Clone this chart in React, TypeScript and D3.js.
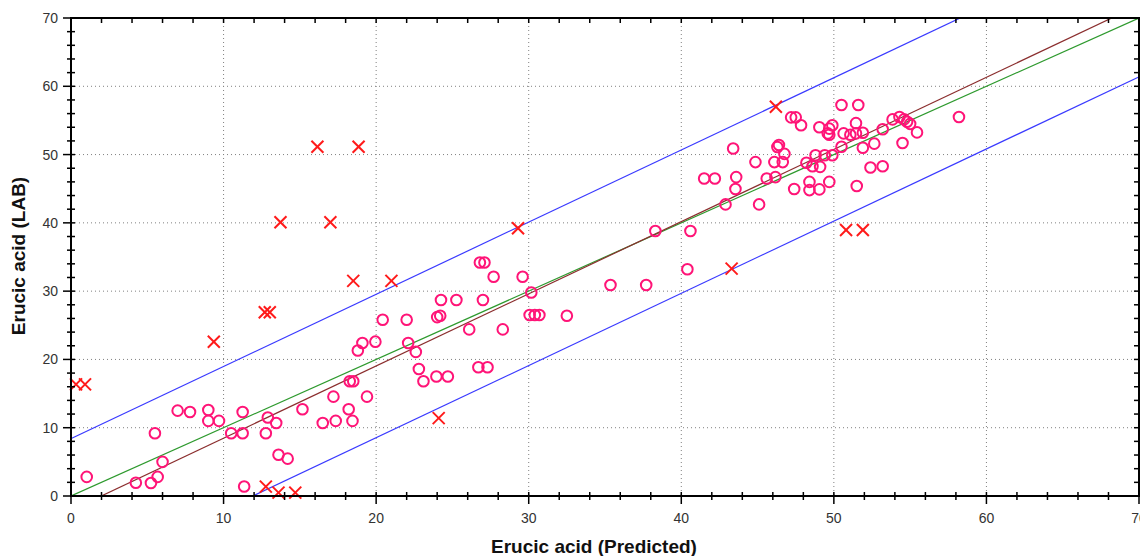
import React from "react";
import * as d3 from "d3";

// Normal samples: predicted vs lab
const predicted: number[] = [
  1.03, 4.25, 5.24, 5.68, 6.0, 5.5, 6.99, 7.8, 9.0, 9.0, 9.7, 10.5, 11.25, 11.25, 11.35,
  12.77, 12.9, 13.45, 13.6, 14.2, 15.17, 16.5, 17.35, 17.2, 18.2, 18.45, 18.27, 18.5, 19.4,
  18.8, 19.1, 19.95, 22.1, 22.6, 22.8, 23.1, 23.95, 24.7, 26.8, 27.1, 27.7, 29.6, 30.17,
  24.25, 25.26, 27.0, 24.0, 24.2, 30.06, 30.4, 30.7, 32.5, 20.43, 22.0, 26.1, 28.3, 26.7, 27.3,
  35.36, 37.7, 38.3, 40.6, 40.4, 42.9, 45.1, 41.5, 42.2, 43.6, 43.55, 43.4, 44.86, 45.6, 46.17,
  47.4, 46.1, 46.65, 46.3, 46.4, 46.76, 47.2, 47.5, 47.85, 48.2, 48.6, 48.4, 48.4, 49.05,
  48.8, 49.4, 49.1, 49.7, 49.9, 49.05, 49.7, 49.6, 49.7, 49.9, 50.5, 51.6, 50.5, 50.64,
  51.08, 51.45, 51.45, 51.9, 51.9, 51.5, 52.4, 53.2, 52.65, 53.2, 53.85, 54.3, 54.6, 54.8,
  55.0, 55.45, 54.5, 58.2,
];
const lab: number[] = [
  2.8, 1.95, 1.9, 2.8, 5.0, 9.2, 12.5, 12.3, 12.6, 11.0, 11.0, 9.2, 12.3, 9.2, 1.4,
  9.2, 11.5, 10.7, 6.05, 5.47, 12.7, 10.7, 11.0, 14.55, 12.7, 11.0, 16.8, 16.8, 14.55,
  21.3, 22.4, 22.6, 22.4, 21.1, 18.6, 16.8, 17.5, 17.5, 34.2, 34.2, 32.1, 32.1, 29.8,
  28.7, 28.7, 28.7, 26.2, 26.4, 26.5, 26.5, 26.5, 26.4, 25.8, 25.8, 24.4, 24.4, 18.85, 18.85,
  30.9, 30.9, 38.8, 38.8, 33.2, 42.7, 42.7, 46.5, 46.5, 46.7, 44.95, 50.9, 48.9, 46.5, 46.7,
  44.95, 48.9, 48.9, 51.1, 51.4, 50.1, 55.45, 55.45, 54.3, 48.8, 48.3, 46.0, 44.8, 44.9,
  49.9, 49.9, 48.2, 46.0, 49.9, 54.0, 53.8, 53.1, 52.9, 54.3, 57.25, 57.25, 51.15, 53.1,
  52.9, 53.1, 54.6, 53.2, 51.0, 45.4, 48.1, 48.3, 51.6, 53.7, 55.15, 55.5, 55.15, 54.8,
  54.5, 53.25, 51.7, 55.5,
];

// Outlier samples (crosses)
const outPredicted: number[] = [
  9.36, 0.33, 0.92, 12.77, 13.6, 14.7, 24.1, 18.5, 21.0, 16.15, 18.85, 13.73, 17.0,
  12.7, 13.03, 29.3, 43.3, 46.2, 50.8, 51.9,
];
const outLab: number[] = [
  22.6, 16.35, 16.35, 1.37, 0.5, 0.5, 11.4, 31.5, 31.5, 51.15, 51.15, 40.1, 40.1,
  26.9, 26.9, 39.2, 33.3, 57.0, 38.95, 38.95,
];

const xTicks: number[] = [0, 10, 20, 30, 40, 50, 60, 70];
const yTicks: number[] = [0, 10, 20, 30, 40, 50, 60, 70];
const minorTicks: number[] = d3.range(0, 71, 2);

const fitSlope = 1.057;
const fitIntercept = -2.1;
const band = 10.5;

const W = 1140;
const H = 556;
const L = 71;
const R = 1139;
const T = 18;
const B = 496;

export default function App() {
  const x = d3.scaleLinear().domain([0, 70]).range([L, R]);
  const y = d3.scaleLinear().domain([0, 70]).range([B, T]);

  const lineFor = (m: number, c: number) => {
    const pts: [number, number][] = [
      [-10, m * -10 + c],
      [80, m * 80 + c],
    ];
    return d3
      .line<[number, number]>()
      .x((d) => x(d[0]))
      .y((d) => y(d[1]))(pts) as string;
  };

  const gridX = xTicks.filter((t) => t > 0 && t < 70);
  const gridY = yTicks.filter((t) => t > 0 && t < 70);
  const cs = 6;

  return (
    <svg
      width={W}
      height={H}
      style={{ position: "absolute", left: 0, top: 0, background: "#fff" }}
      fontFamily="Arial, 'Liberation Sans', sans-serif"
    >
      <defs>
        <clipPath id="plot">
          <rect x={L} y={T} width={R - L} height={B - T} />
        </clipPath>
      </defs>
      {/* grid */}
      {gridX.map((t) => (
        <line key={"gx" + t} x1={x(t)} x2={x(t)} y1={T} y2={B} stroke="#808080" strokeWidth={1} strokeDasharray="1,3" />
      ))}
      {gridY.map((t) => (
        <line key={"gy" + t} x1={L} x2={R} y1={y(t)} y2={y(t)} stroke="#808080" strokeWidth={1} strokeDasharray="1,3" />
      ))}
      {/* reference lines */}
      <g clipPath="url(#plot)" fill="none">
        <path d={lineFor(1, 0)} stroke="#2e9a2e" strokeWidth={1.2} />
        <path d={lineFor(fitSlope, fitIntercept)} stroke="#8b2e2e" strokeWidth={1.2} />
        <path d={lineFor(fitSlope, fitIntercept + band)} stroke="#3a3aff" strokeWidth={1.2} />
        <path d={lineFor(fitSlope, fitIntercept - band)} stroke="#3a3aff" strokeWidth={1.2} />
      </g>
      {/* circles */}
      <g fill="none" stroke="#ff1477" strokeWidth={2}>
        {predicted.map((p, i) => (
          <circle key={"c" + i} cx={x(p)} cy={y(lab[i])} r={5.3} />
        ))}
      </g>
      {/* crosses */}
      <g stroke="#ff1a1a" strokeWidth={2}>
        {outPredicted.map((p, i) => {
          const cx = x(p);
          const cy = y(outLab[i]);
          return (
            <g key={"x" + i}>
              <line x1={cx - cs} y1={cy - cs} x2={cx + cs} y2={cy + cs} />
              <line x1={cx - cs} y1={cy + cs} x2={cx + cs} y2={cy - cs} />
            </g>
          );
        })}
      </g>
      {/* frame */}
      <rect x={L} y={T} width={R - L} height={B - T} fill="none" stroke="#000" strokeWidth={2} />
      {/* ticks */}
      <g stroke="#000" strokeWidth={1.5}>
        {minorTicks.map((t) => {
          const major = t % 10 === 0;
          return (
            <g key={"t" + t}>
              <line x1={x(t)} x2={x(t)} y1={B - 4} y2={B + (major ? 8 : 4)} />
              <line x1={x(t)} x2={x(t)} y1={T} y2={T + 5} />
              <line y1={y(t)} y2={y(t)} x1={L - (major ? 8 : 4)} x2={L + 4} />
              <line y1={y(t)} y2={y(t)} x1={R - 5} x2={R} />
            </g>
          );
        })}
      </g>
      {/* tick labels */}
      <g fontSize={14} fill="#333">
        {xTicks.map((t) => (
          <text key={"xl" + t} x={x(t)} y={523} textAnchor="middle">
            {t}
          </text>
        ))}
        {yTicks.map((t) => (
          <text key={"yl" + t} x={58} y={y(t) + 5} textAnchor="end">
            {t}
          </text>
        ))}
      </g>
      {/* axis titles */}
      <text x={594} y={553} textAnchor="middle" fontSize={19} fontWeight="bold" fill="#111">
        Erucic acid (Predicted)
      </text>
      <text
        transform={`translate(25, 256) rotate(-90)`}
        textAnchor="middle"
        fontSize={19}
        fontWeight="bold"
        fill="#111"
      >
        Erucic acid (LAB)
      </text>
    </svg>
  );
}
